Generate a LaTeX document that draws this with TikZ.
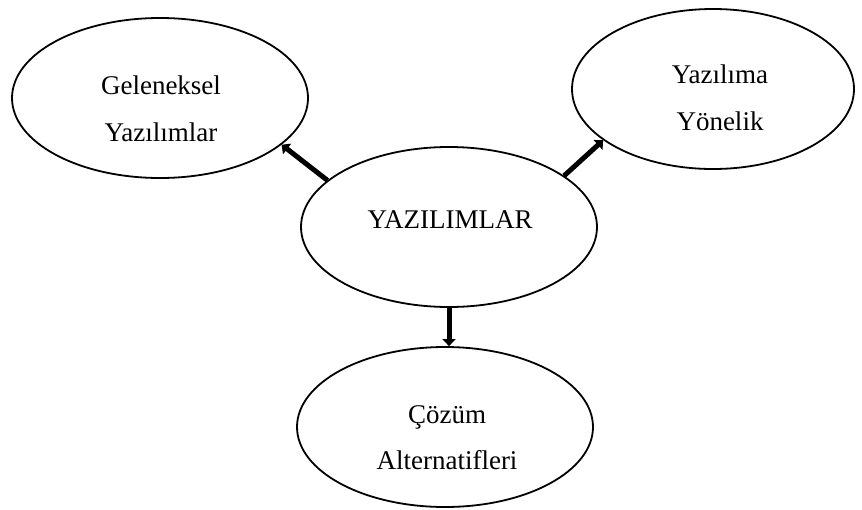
\documentclass[tikz,border=0pt]{standalone}
\usepackage{fontspec}
\setmainfont{Liberation Serif}
\usetikzlibrary{shapes.geometric,arrows.meta}
\begin{document}
\begin{tikzpicture}[x=1pt,y=-1pt,
  bubble/.style={ellipse,draw=black,line width=1.8pt,minimum width=296pt,minimum height=160pt,inner sep=0pt},
  txt/.style={anchor=base,inner sep=0pt,font=\fontsize{27}{30}\selectfont},
  link/.style={line width=5pt,-{Triangle[width=13pt,length=7pt]}}]
\useasboundingbox (0,0) rectangle (862,509);

% ellipses
\node[bubble] (tl) at (160,98) {};
\node[bubble,minimum width=282pt] (tr) at (713,89) {};
\node[bubble] (c)  at (449,227) {};
\node[bubble] (b)  at (445,427) {};

% labels
\node[txt] (tl1) at (161,94) {Geleneksel};
\node[txt] (tl2) at (161,141) {Yazılımlar};
\node[txt] (tr1) at (720,83) {Yazılıma};
\node[txt] (tr2) at (720,130) {Yönelik};
\node[txt] (c1)  at (450,228) {YAZILIMLAR};
\node[txt] (b1)  at (447,423) {Çözüm};
\node[txt] (b2)  at (447,469) {Alternatifleri};

% connectors
\draw[link] (c.159) -- (tl.339);
\draw[link] (c.24) -- (tr.205);
\draw[link] (c.south) -- (c.south |- b.north);
\end{tikzpicture}
\end{document}
